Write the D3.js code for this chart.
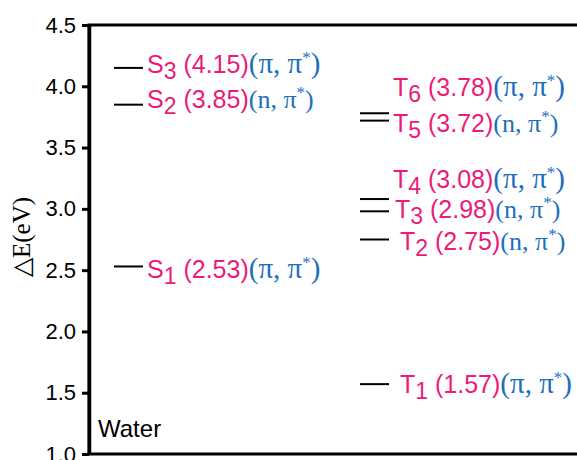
<!DOCTYPE html>
<html>
<head>
<meta charset="utf-8">
<script src="https://cdn.jsdelivr.net/npm/d3@7"></script>
<style>
  body { margin: 0; background: #fff; }
  svg { display: block; }
</style>
</head>
<body>
<script>
// energy levels
let states = ["S3", "S2", "S1", "T6", "T5", "T4", "T3", "T2", "T1"],
    energies = [4.15, 3.85, 2.53, 3.78, 3.72, 3.08, 2.98, 2.75, 1.57],
    characters = ["π", "n", "π", "π", "n", "π", "n", "n", "π"],
    yTicks = [1.0, 1.5, 2.0, 2.5, 3.0, 3.5, 4.0, 4.5];

// label nudges (pixels) so the crowded labels don't overlap
let labelDy = [5, 3.5, 12, -17, 11, -11, 7, 10, 9],
    labelDx = [0, 0, 0, 0, 0, 0, 2, 7, 7];

let w = 577, h = 460,
    mLeft = 89, mTop = 25, mBottom = 454;

let pink = "#ec1a78", blue = "#1c6fc0";

let svg = d3.select("body").append("svg")
  .attr("width", w).attr("height", h);

let y = d3.scaleLinear().domain([1, 4.5]).range([mBottom, mTop]);
let xCol = d3.scaleOrdinal().domain(["S", "T"]).range([114, 360]);
let lineLen = 29;

// frame (right side runs off the picture)
svg.append("rect")
  .attr("x", mLeft).attr("y", mTop)
  .attr("width", w + 40 - mLeft).attr("height", mBottom - mTop)
  .attr("fill", "none").attr("stroke", "#000").attr("stroke-width", 3);

let yAxis = svg.append("g")
  .attr("transform", "translate(" + mLeft + ",0)")
  .call(d3.axisLeft(y).tickValues(yTicks).tickFormat(d3.format(".1f")).tickSize(7).tickSizeOuter(0).tickPadding(6));

yAxis.select(".domain").attr("stroke-width", 3.5);
yAxis.selectAll(".tick line").attr("stroke-width", 3);
yAxis.selectAll(".tick text")
  .attr("font-family", "'Liberation Sans', Arial, sans-serif")
  .attr("font-size", 22).attr("fill", "#000");

svg.append("text")
  .attr("transform", "translate(30," + 237 + ") rotate(-90)")
  .attr("text-anchor", "middle")
  .attr("font-family", "'Liberation Serif', 'Times New Roman', serif")
  .attr("font-size", 25)
  .text("△E(eV)");

svg.append("text")
  .attr("x", 98).attr("y", 437)
  .attr("font-family", "'Liberation Sans', Arial, sans-serif")
  .attr("font-size", 24)
  .text("Water");

let levels = states.map((s, i) => ({
  letter: s[0], num: s.slice(1), e: energies[i], ch: characters[i], dy: labelDy[i], dx: labelDx[i]
}));

svg.selectAll(".level").data(levels).enter().append("line")
  .attr("class", "level")
  .attr("x1", d => xCol(d.letter))
  .attr("x2", d => xCol(d.letter) + lineLen)
  .attr("y1", d => y(d.e)).attr("y2", d => y(d.e))
  .attr("stroke", "#000").attr("stroke-width", 2);

let lab = svg.selectAll(".lab").data(levels).enter().append("text")
  .attr("class", "lab")
  .attr("x", d => xCol(d.letter) + lineLen + 4 + d.dx)
  .attr("y", d => y(d.e) + d.dy)
  .attr("font-family", "'Liberation Sans', Arial, sans-serif")
  .attr("font-size", 25);

let serif = "'Liberation Serif', 'Times New Roman', serif";

lab.append("tspan").attr("fill", pink).text(d => d.letter);
lab.append("tspan").attr("fill", pink).attr("dy", 6).attr("font-size", 23).text(d => d.num);
lab.append("tspan").attr("fill", pink).attr("dy", -6).text(d => " (" + d3.format(".2f")(d.e) + ")");
lab.append("tspan").attr("fill", blue)
  .attr("font-family", serif)
  .attr("font-size", d => d.ch == "π" ? 29 : 26)
  .text(d => "(" + d.ch + ", π");
lab.append("tspan").attr("fill", blue)
  .attr("font-family", serif)
  .attr("font-size", 17).attr("dy", -10).text("*");
lab.append("tspan").attr("fill", blue)
  .attr("font-family", serif)
  .attr("font-size", d => d.ch == "π" ? 29 : 26).attr("dy", 10)
  .text(")");
</script>
</body>
</html>
